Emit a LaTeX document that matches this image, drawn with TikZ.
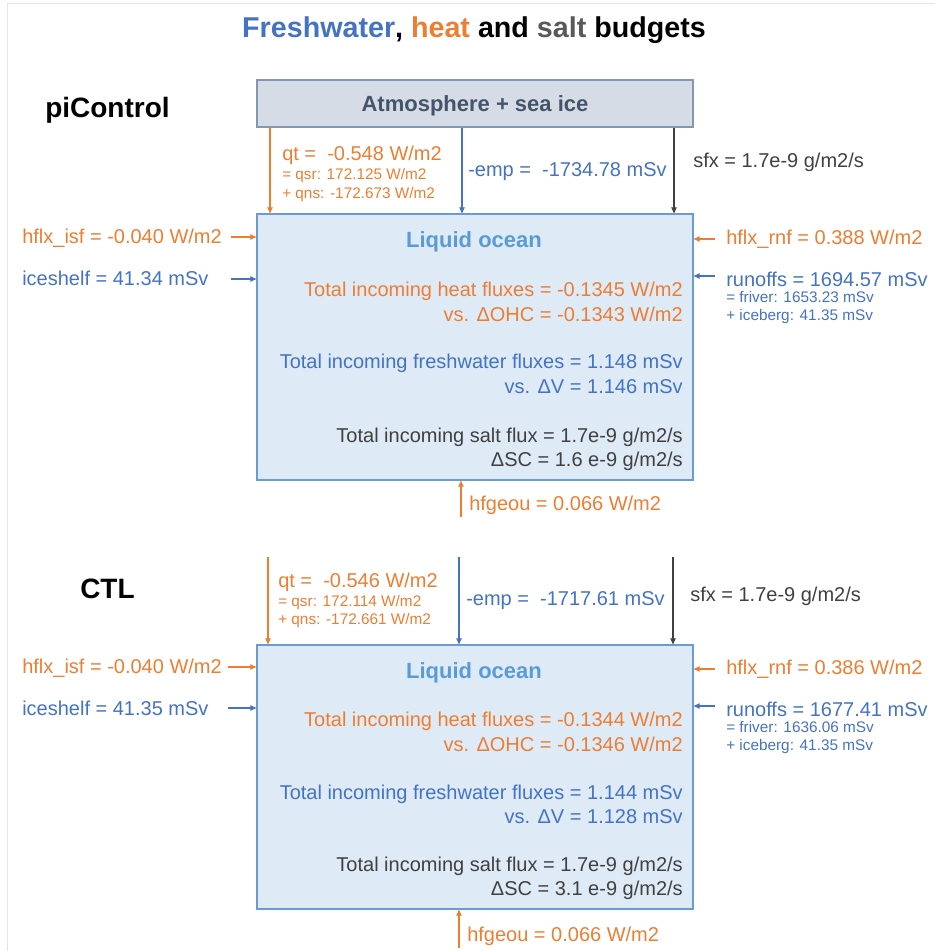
\documentclass[tikz,border=0pt]{standalone}
\usepackage{fontspec}
\setmainfont{Liberation Sans}
\usetikzlibrary{arrows.meta,positioning}
\definecolor{heatcol}{HTML}{ED7D31}
\definecolor{fwcol}{HTML}{4472C4}
\definecolor{saltcol}{HTML}{404040}
\definecolor{titlesalt}{HTML}{595959}
\definecolor{oceanfill}{HTML}{DEEBF7}
\definecolor{oceanline}{HTML}{6A9BD2}
\definecolor{oceantext}{HTML}{5B9BD5}
\definecolor{atmfill}{HTML}{D6DCE5}
\definecolor{atmline}{HTML}{8497B0}
\definecolor{atmtext}{HTML}{44546A}
\definecolor{framecol}{HTML}{E4E4E4}

\begin{document}
\begin{tikzpicture}[
  x=0.75pt, y=-0.75pt,
  oceanbox/.style={draw=oceanline, fill=oceanfill, line width=0.9pt, minimum width=327pt, inner sep=0pt},
  atmbox/.style={draw=atmline, fill=atmfill, line width=0.9pt, minimum width=327pt, minimum height=35.25pt,
                 inner sep=0pt, text depth=0pt, text=atmtext, font=\bfseries\fontsize{16.5}{20}\selectfont},
  boxtitle/.style={font=\bfseries\fontsize{16.5}{20}\selectfont, text=oceantext, inner sep=0pt, anchor=base},
  runname/.style={font=\bfseries\fontsize{21}{25}\selectfont, inner sep=0pt, anchor=base west},
  flux/.style={font=\fontsize{15}{18}\selectfont, inner sep=0pt, anchor=base west},
  subflux/.style={font=\fontsize{11.5}{14}\selectfont, inner sep=0pt, anchor=base west},
  budget/.style={font=\fontsize{15}{18}\selectfont, inner sep=0pt, anchor=base east},
  heatarr/.style={draw=heatcol, line width=0.8pt, -{Triangle[length=4.5pt,width=4pt]}},
  fwarr/.style={draw=fwcol, line width=0.8pt, -{Triangle[length=4.5pt,width=4pt]}},
  saltarr/.style={draw=saltcol, line width=0.8pt, -{Triangle[length=4.5pt,width=4pt]}},
]
\useasboundingbox (0,0) rectangle (935,951);
\draw[framecol] (7,951) -- (7,3) -- (935,3);

\node[font=\bfseries\fontsize{21.5}{26}\selectfont, inner sep=0pt, anchor=base] (title) at (474,37)
  {\textcolor{fwcol}{Freshwater}, \textcolor{heatcol}{heat} and \textcolor{titlesalt}{salt} budgets};

% piControl
\node[runname] (runA) at (45,117) {piControl};
\node[atmbox] (atm) at (475,103.5) {Atmosphere + sea ice};
\node[oceanbox, minimum height=199.5pt] (ocnA) at (475,347) {};
\node[boxtitle] (ttlA) at (474,247) {Liquid ocean};

\foreach \nm/\yy/\col/\txt in {
  heatA/296/heatcol/{Total incoming heat fluxes = -0.1345 W/m2},
  ohcA/321/heatcol/{vs. ΔOHC = -0.1343 W/m2},
  fwA/368/fwcol/{Total incoming freshwater fluxes = 1.148 mSv},
  volA/393/fwcol/{vs. ΔV = 1.146 mSv},
  saltA/442/saltcol/{Total incoming salt flux = 1.7e-9 g/m2/s},
  scA/466/saltcol/{ΔSC = 1.6 e-9 g/m2/s}
}{
  \node[budget, text=\col] (\nm) at (683,\yy) {\txt};
}

\node[flux, text=heatcol]    (qtA)  at (282,160) {qt =\ \ -0.548 W/m2};
\node[subflux, text=heatcol] (qsrA) at (282,179) {= qsr: 172.125 W/m2};
\node[subflux, text=heatcol] (qnsA) at (282,198) {+ qns: -172.673 W/m2};
\node[flux, text=fwcol]      (empA) at (468,176) {-emp =\ \ -1734.78 mSv};
\node[flux, text=saltcol]    (sfxA) at (693,167) {sfx = 1.7e-9 g/m2/s};
\node[flux, text=heatcol]    (isfA) at (22,243)  {hflx\_isf = -0.040 W/m2};
\node[flux, text=fwcol]      (iceA) at (22,285)  {iceshelf = 41.34 mSv};
\node[flux, text=heatcol]    (rnfA) at (726,244) {hflx\_rnf = 0.388 W/m2};
\node[flux, text=fwcol]      (rofA) at (726,286) {runoffs = 1694.57 mSv};
\node[subflux, text=fwcol]   (frvA) at (726,302) {= friver: 1653.23 mSv};
\node[subflux, text=fwcol]   (icbA) at (726,320) {+ iceberg: 41.35 mSv};
\node[flux, text=heatcol]    (geoA) at (469,510) {hfgeou = 0.066 W/m2};

\coordinate (xqA) at (270,0);
\coordinate (xeA) at (462,0);
\coordinate (xsA) at (674,0);
\draw[heatarr] (atm.south -| xqA) -- (ocnA.north -| xqA);
\draw[fwarr]   (atm.south -| xeA) -- (ocnA.north -| xeA);
\draw[saltarr] (atm.south -| xsA) -- (ocnA.north -| xsA);

\coordinate (isfAin) at (231,237);
\coordinate (iceAin) at (231,279);
\coordinate (rnfAin) at (715,239);
\coordinate (rofAin) at (715,276);
\coordinate (geoAin) at (461,517);
\draw[heatarr] (isfAin) -- (isfAin -| ocnA.west);
\draw[fwarr]   (iceAin) -- (iceAin -| ocnA.west);
\draw[heatarr] (rnfAin) -- (rnfAin -| ocnA.east);
\draw[fwarr]   (rofAin) -- (rofAin -| ocnA.east);
\draw[heatarr] (geoAin) -- (geoAin |- ocnA.south);

% CTL
\node[runname] (runB) at (80,598) {CTL};
\node[oceanbox, minimum height=198pt] (ocnB) at (475,777) {};
\node[boxtitle] (ttlB) at (474,678) {Liquid ocean};

\foreach \nm/\yy/\col/\txt in {
  heatB/726/heatcol/{Total incoming heat fluxes = -0.1344 W/m2},
  ohcB/751/heatcol/{vs. ΔOHC = -0.1346 W/m2},
  fwB/799/fwcol/{Total incoming freshwater fluxes = 1.144 mSv},
  volB/823/fwcol/{vs. ΔV = 1.128 mSv},
  saltB/871/saltcol/{Total incoming salt flux = 1.7e-9 g/m2/s},
  scB/895/saltcol/{ΔSC = 3.1 e-9 g/m2/s}
}{
  \node[budget, text=\col] (\nm) at (683,\yy) {\txt};
}

\node[flux, text=heatcol]    (qtB)  at (278,587) {qt =\ \ -0.546 W/m2};
\node[subflux, text=heatcol] (qsrB) at (278,606) {= qsr: 172.114 W/m2};
\node[subflux, text=heatcol] (qnsB) at (278,624) {+ qns: -172.661 W/m2};
\node[flux, text=fwcol]      (empB) at (466,605) {-emp =\ \ -1717.61 mSv};
\node[flux, text=saltcol]    (sfxB) at (690,601) {sfx = 1.7e-9 g/m2/s};
\node[flux, text=heatcol]    (isfB) at (22,673)  {hflx\_isf = -0.040 W/m2};
\node[flux, text=fwcol]      (iceB) at (22,715)  {iceshelf = 41.35 mSv};
\node[flux, text=heatcol]    (rnfB) at (726,674) {hflx\_rnf = 0.386 W/m2};
\node[flux, text=fwcol]      (rofB) at (726,716) {runoffs = 1677.41 mSv};
\node[subflux, text=fwcol]   (frvB) at (726,732) {= friver: 1636.06 mSv};
\node[subflux, text=fwcol]   (icbB) at (726,750) {+ iceberg: 41.35 mSv};
\node[flux, text=heatcol]    (geoB) at (467,941) {hfgeou = 0.066 W/m2};

\coordinate (qtBtop)  at (268,557);
\coordinate (empBtop) at (459,557);
\coordinate (sfxBtop) at (673,557);
\draw[heatarr] (qtBtop)  -- (qtBtop |- ocnB.north);
\draw[fwarr]   (empBtop) -- (empBtop |- ocnB.north);
\draw[saltarr] (sfxBtop) -- (sfxBtop |- ocnB.north);

\coordinate (isfBin) at (228,667);
\coordinate (iceBin) at (228,708);
\coordinate (rnfBin) at (715,669);
\coordinate (rofBin) at (715,706);
\coordinate (geoBin) at (459,948);
\draw[heatarr] (isfBin) -- (isfBin -| ocnB.west);
\draw[fwarr]   (iceBin) -- (iceBin -| ocnB.west);
\draw[heatarr] (rnfBin) -- (rnfBin -| ocnB.east);
\draw[fwarr]   (rofBin) -- (rofBin -| ocnB.east);
\draw[heatarr] (geoBin) -- (geoBin |- ocnB.south);

\end{tikzpicture}
\end{document}
